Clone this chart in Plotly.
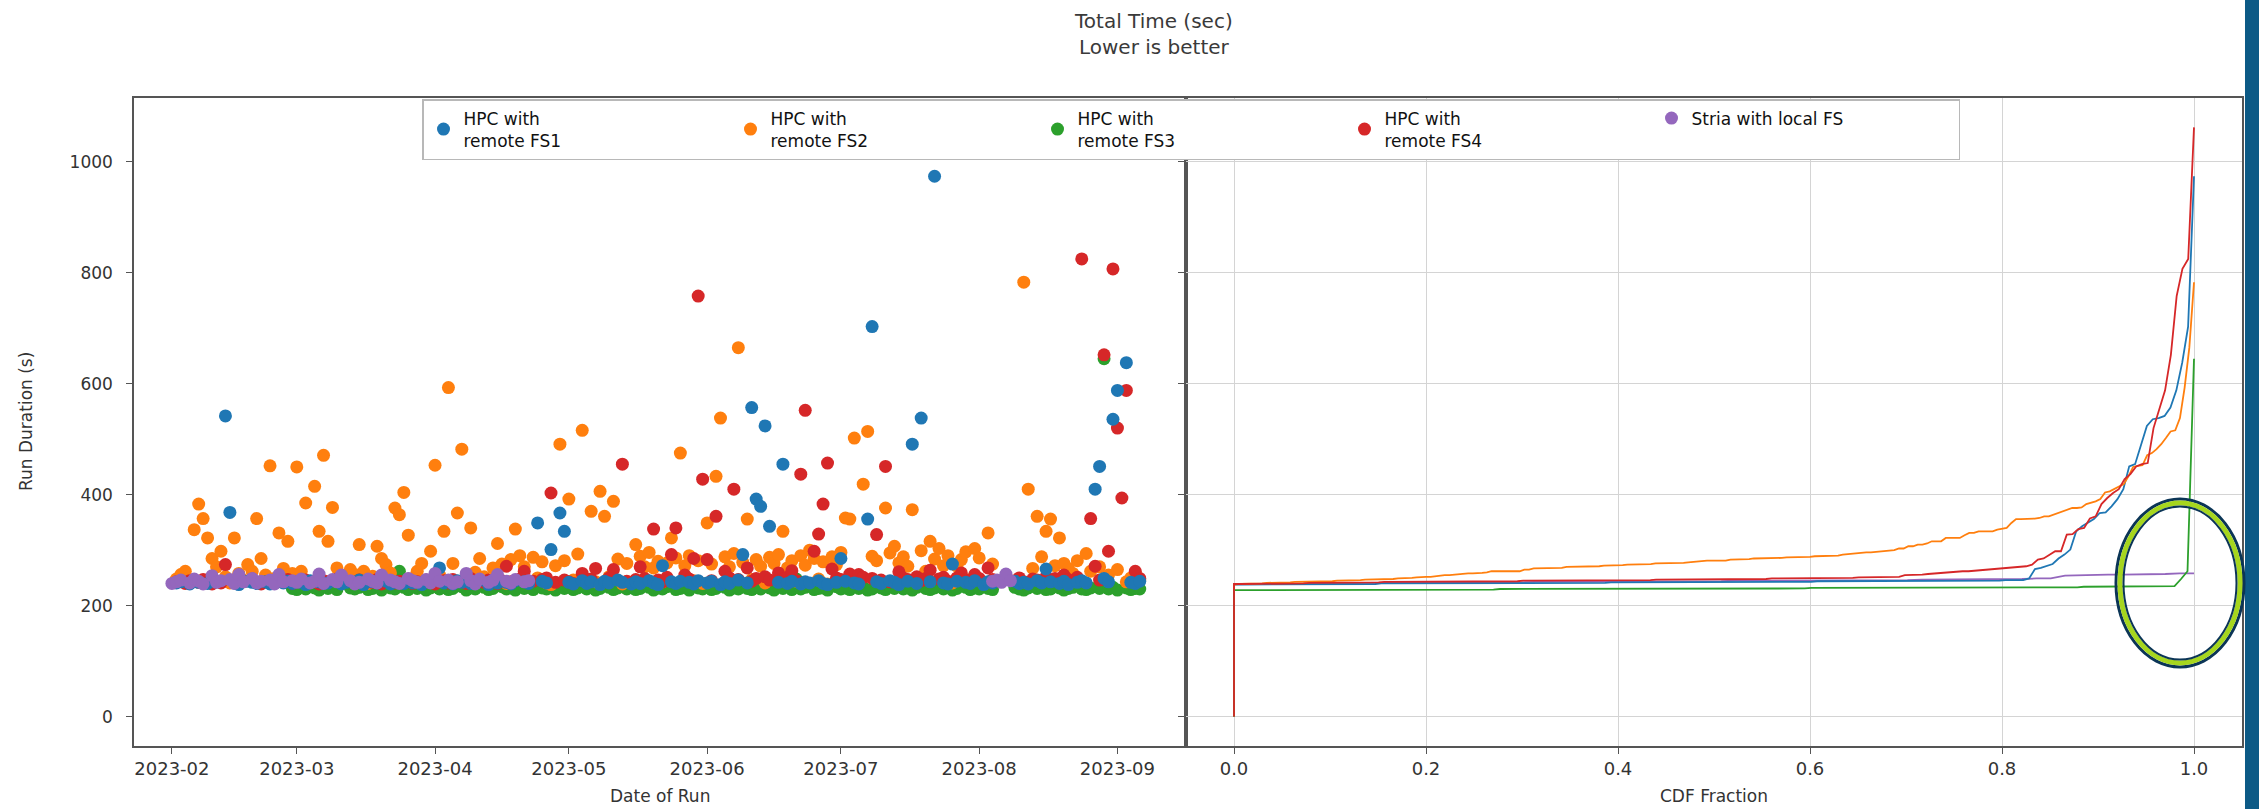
import numpy as np
import pandas as pd
import plotly.graph_objects as go

N = None

# ---------------- data (one value per day, None = no run) ----------------
run_start = "2023-02-01"
run_end = "2023-09-06"

series_names = ["HPC with<br>remote FS1", "HPC with<br>remote FS2", "HPC with<br>remote FS3",
                "HPC with<br>remote FS4", "Stria with local FS"]
series_colors = ["#1f77b4", "#ff7f0e", "#2ca02c", "#d62728", "#9467bd"]

fs1_vals = [
    N, 241, 243, N, 239, 244, 242, N, 240, 245,
    243, N, 542, 368, 241, 238, N, 244, 242, 240,
    N, 243, 239, 245, N, 241, 244, 240, N, 242,
    238, 245, N, 243, 240, 241, N, 244, 239, 242,
    N, 240, 246, 238, N, 243, 241, N, 244, 239,
    242, N, 240, 245, 241, N, 238, 243, 244, N,
    268, 241, N, 239, 245, 242, N, 240, 243, 246,
    N, 238, 244, 241, N, 242, 239, 245, N, 243,
    240, N, 349, 244, 241, 301, N, 367, 334, 242,
    239, N, 245, 240, 243, N, 238, 244, 241, N,
    246, 242, N, 239, 243, 240, N, 245, 241, 238,
    272, N, 243, 240, 244, N, 242, 239, 245, N,
    241, 244, N, 238, 243, 240, N, 246, 292, 241,
    557, 392, 379, 524, 343, N, 242, 455, 240, 244,
    N, 239, 243, 241, N, 245, 240, 238, N, 242,
    285, 244, N, 241, 239, N, 356, 703, 243, 240,
    N, 245, 242, 238, N, 244, 491, 240, 538, N,
    243, 974, N, 241, 239, 275, 244, N, 242, 240,
    245, N, 238, 243, 241, N, N, N, N, 244,
    240, 242, 239, N, 245, 241, 266, 243, N, 240,
    244, 238, N, 242, 245, 241, N, 410, 451, 249,
    243, 536, 588, N, 638, 242, 240, 244,
]

fs2_vals = [
    N, 248, 256, 262, 244, 337, 383, 357, 322, 285,
    270, 298, 252, 241, 322, 258, 246, 274, 262, 357,
    285, 255, 452, 249, 331, 267, 316, 258, 450, 262,
    385, 243, 415, 334, 471, 316, 377, 268, 251, 247,
    265, 256, 310, 262, 240, 253, 307, 285, 274, 259,
    376, 364, 404, 327, 249, 262, 276, 244, 298, 453,
    255, 334, 593, 276, 367, 482, 248, 340, 260, 285,
    252, 245, 268, 312, 275, 240, 283, 338, 290, 270,
    244, 287, 250, 279, 241, 238, 272, 491, 281, 392,
    246, 293, 516, 247, 370, 243, 406, 361, 252, 388,
    284, 239, 276, 242, 310, 289, 270, 296, 268, 280,
    243, 277, 322, 286, 475, 272, 290, 245, 281, 240,
    349, 275, 433, 538, 288, 270, 294, 665, 278, 356,
    247, 283, 271, 241, 287, 276, 292, 334, 268, 281,
    244, 290, 273, 300, 285, 248, 279, 239, 288, 274,
    296, 358, 356, 502, 244, 419, 514, 289, 281, 245,
    376, 295, 307, 277, 288, 271, 373, 242, 299, 262,
    316, 284, 303, 272, 290, 241, 271, 283, 297, 247,
    303, 286, 240, 331, 275, N, N, N, N, N,
    N, 783, 410, 267, 361, 288, 334, 356, 272, 322,
    276, 267, 258, 281, N, 294, 262, N, 270, N,
    255, N, 265, N, 243, 250, 258, 246,
]

fs3_vals = [
    N, N, N, N, N, N, N, N, N, N,
    N, N, N, N, N, N, N, N, N, N,
    N, N, N, N, N, N, N, 231, 229, 233,
    230, N, 232, 228, 234, 231, N, 229, N, N,
    232, 230, 233, N, 229, 231, 234, 228, N, 232,
    230, 262, 233, 229, N, 231, 235, 228, 232, N,
    230, 233, 229, 231, N, 234, 228, 232, 230, N,
    233, 229, 231, N, 234, 230, 232, 228, N, 231,
    233, 229, N, 232, 230, 234, 228, N, 231, 233,
    229, 232, N, 230, 235, 228, 231, N, 233, 229,
    232, N, 230, 234, 229, 231, N, 233, 228, 232,
    230, 234, N, 229, 231, 233, 228, N, 232, 230,
    234, 229, 231, N, 233, 228, 232, 230, N, 231,
    229, 233, 230, N, 232, 228, 234, 231, N, 229,
    248, 230, 233, N, 229, 231, 232, 228, N, 234,
    230, 232, 229, N, 231, 233, 228, 230, N, 232,
    229, 234, 231, N, 230, 232, 228, 233, N, 231,
    229, 232, N, 230, 234, 228, 231, N, 233, 229,
    232, 230, N, 231, 229, N, N, N, N, 233,
    230, 228, 232, N, 231, 234, 229, 230, N, 232,
    228, 231, 233, N, 230, 229, 232, N, 231, 645,
    230, 233, 228, N, 232, 229, 231, 230,
]

fs4_vals = [
    N, 243, N, 240, 245, N, 242, 247, N, 239,
    244, 241, 274, N, 246, 240, 243, N, 248, 242,
    239, N, 245, 241, 244, N, 247, 240, 243, N,
    246, 242, N, 239, 245, 243, N, 248, 241, 244,
    N, 240, 246, 243, N, 242, 247, 239, N, 245,
    241, 244, N, 248, 240, 243, N, 246, 242, 239,
    N, 245, 241, 247, N, 243, 240, 249, N, 244,
    242, 246, N, 240, 245, 271, 243, N, 248, 262,
    241, 244, N, 247, 250, 403, 242, N, 246, 243,
    240, N, 258, 245, 248, 267, N, 243, 250, 265,
    1062, 455, 244, N, 247, 270, 249, N, 338, 246,
    243, 251, 292, 340, N, 255, 248, 285, 758, 428,
    283, 245, 361, N, 262, 250, 410, 247, N, 268,
    244, 249, N, 252, 246, N, 259, 248, 251, 263,
    245, 437, 552, N, 298, 329, 383, 457, 266, 250,
    247, N, 257, 244, 256, 251, N, 249, 328, 246,
    451, 243, N, 261, 250, 247, N, 252, 245, 249,
    264, N, 248, 251, 244, N, 250, 259, 246, N,
    256, 249, N, 268, 247, N, N, N, N, 245,
    250, 243, N, 248, 246, N, 252, 244, 249, N,
    255, 247, N, 251, 825, N, 357, 271, 246, 652,
    298, 807, 520, 394, 588, N, 262, 249,
]

stria_vals = [
    240, 243, 246, N, 241, 248, 244, 239, N, 254,
    242, 245, N, 247, 240, 256, 243, N, 249, 241,
    244, N, 246, 239, 256, 243, N, 245, 242, 248,
    N, 241, 244, 257, 240, N, 247, 243, 255, N,
    245, 239, 242, N, 248, 244, 241, 255, N, 246,
    243, 240, N, 249, 245, 242, N, 247, 241, 258,
    244, N, 246, 240, 243, N, 258, 245, 239, 248,
    N, 242, 246, 256, N, 244, 241, 247, N, 243,
    245, N, N, N, N, N, N, N, N, N,
    N, N, N, N, N, N, N, N, N, N,
    N, N, N, N, N, N, N, N, N, N,
    N, N, N, N, N, N, N, N, N, N,
    N, N, N, N, N, N, N, N, N, N,
    N, N, N, N, N, N, N, N, N, N,
    N, N, N, N, N, N, N, N, N, N,
    N, N, N, N, N, N, N, N, N, N,
    N, N, N, N, N, N, N, N, N, N,
    N, N, N, N, N, N, N, N, N, N,
    N, N, N, N, 244, 246, 242, 257, 245, N,
    N, N, N, N, N, N, N, N, N, N,
    N, N, N, N, N, N, N, N, N, N,
    N, N, N, N, N, N, N, N,
]

all_vals = [fs1_vals, fs2_vals, fs3_vals, fs4_vals, stria_vals]

cdf_ticks = [0.0, 0.2, 0.4, 0.6, 0.8, 1.0]
y_ticks = [0, 200, 400, 600, 800, 1000]

# ---------------- figure ----------------
W, H = 2259, 809
dates = pd.date_range(run_start, run_end, freq="D")

FONT = "DejaVu Sans"
AX = "#555555"

fig = go.Figure()

# left panel: scatter of runs over time (draw order chosen so the baseline reads as in the source)
for idx in [2, 1, 3, 0, 4]:
    vals = all_vals[idx]
    d = dates[:len(vals)]
    xs = [t for t, v in zip(d, vals) if v is not None]
    ys = [v for v in vals if v is not None]
    fig.add_trace(go.Scatter(
        x=xs, y=ys, mode="markers", name=series_names[idx], legendrank=idx + 1,
        marker=dict(color=series_colors[idx], size=13, line=dict(width=0)),
        xaxis="x", yaxis="y", showlegend=True))


def cdf(vals):
    v = np.sort(np.array([x for x in vals if x is not None], dtype=float))
    frac = np.arange(len(v)) / (len(v) - 1)
    return np.concatenate([[0.0], frac]), np.concatenate([[0.0], v])


# right panel: CDF lines (purple underneath, red on top)
for idx in [4, 0, 1, 2, 3]:
    fx, fy = cdf(all_vals[idx])
    fig.add_trace(go.Scatter(
        x=fx, y=fy, mode="lines", line=dict(color=series_colors[idx], width=1.8),
        xaxis="x2", yaxis="y2", showlegend=False, hoverinfo="skip"))


def px_x(p):
    return p / W


def px_y(p):
    return 1 - p / H


plot_l, plot_m, plot_r = 134, 1186, 2242
plot_t, plot_b = 98, 746

fig.update_layout(
    width=W, height=H,
    margin=dict(l=0, r=0, t=0, b=0),
    paper_bgcolor="white", plot_bgcolor="white",
    font=dict(family=FONT, size=16, color="#333333"),
    xaxis=dict(
        domain=[px_x(plot_l), px_x(plot_m)], type="date",
        range=["2023-01-23 12:00", "2023-09-16 09:00"],
        tickformat="%Y-%m", dtick="M1", tick0="2023-02-01",
        ticks="outside", ticklen=6, tickcolor=AX, tickwidth=1.2,
        showline=True, linecolor=AX, linewidth=1.5, mirror=True,
        showgrid=False, zeroline=False, tickfont=dict(size=18, color="#333333"),
        anchor="y",
    ),
    yaxis=dict(
        domain=[px_y(plot_b), px_y(plot_t)], range=[-53, 1115],
        tickvals=y_ticks, ticks="outside", ticklen=6, tickcolor=AX, tickwidth=1.2,
        ticklabelstandoff=10,
        showline=True, linecolor=AX, linewidth=1.5, mirror=True,
        showgrid=False, zeroline=False, tickfont=dict(size=17, color="#333333"),
        anchor="x",
    ),
    xaxis2=dict(
        domain=[px_x(plot_m), px_x(plot_r)], range=[-0.05, 1.05],
        tickvals=cdf_ticks, ticktext=[f"{t:.1f}" for t in cdf_ticks],
        ticks="outside", ticklen=6, tickcolor=AX, tickwidth=1.2,
        showline=True, linecolor=AX, linewidth=1.5, mirror=True,
        showgrid=True, gridcolor="#d4d4d4", gridwidth=1.2, zeroline=False,
        tickfont=dict(size=18, color="#333333"), anchor="y2",
    ),
    yaxis2=dict(
        domain=[px_y(plot_b), px_y(plot_t)], matches="y",
        tickvals=y_ticks, showticklabels=False,
        ticks="outside", ticklen=6, tickcolor=AX, tickwidth=1.2,
        showline=True, linecolor=AX, linewidth=1.5, mirror=True,
        showgrid=True, gridcolor="#d4d4d4", gridwidth=1.2, zeroline=False,
        anchor="x2",
    ),
    legend=dict(
        orientation="h", x=px_x(422), xanchor="left", y=px_y(plot_t + 1), yanchor="top",
        bgcolor="white", bordercolor="#b8b8b8", borderwidth=1.5,
        font=dict(family=FONT, size=17, color="#111111"),
        entrywidth=262, entrywidthmode="pixels", itemwidth=30, valign="middle",
        traceorder="normal",
    ),
    showlegend=True,
)

annotations = [
    dict(text="Total Time (sec)<br>Lower is better", x=px_x(1153), y=px_y(34),
         xref="paper", yref="paper", showarrow=False, xanchor="center", yanchor="middle",
         font=dict(family=FONT, size=20, color="#3a3a3a")),
    dict(text="Run Duration (s)", x=px_x(26), y=px_y((plot_t + plot_b) / 2),
         xref="paper", yref="paper", showarrow=False, textangle=-90,
         xanchor="center", yanchor="middle", font=dict(family=FONT, size=17, color="#333333")),
    dict(text="Date of Run", x=px_x((plot_l + plot_m) / 2), y=px_y(796),
         xref="paper", yref="paper", showarrow=False, xanchor="center", yanchor="middle",
         font=dict(family=FONT, size=17, color="#333333")),
    dict(text="CDF Fraction", x=px_x((plot_m + plot_r) / 2), y=px_y(796),
         xref="paper", yref="paper", showarrow=False, xanchor="center", yanchor="middle",
         font=dict(family=FONT, size=17, color="#333333")),
]
fig.update_layout(annotations=annotations)

# decorations: dark side band and highlight ellipse
shapes = [
    dict(type="rect", xref="paper", yref="paper", x0=px_x(2245), x1=1.0, y0=0, y1=1,
         fillcolor="#0c5a86", line=dict(width=0), layer="above"),
]
cx, cy = 2180, 583
for rx, ry, colr, wd in [(64, 84, "#0b3556", 3), (60, 80, "#a6d61e", 5), (56.5, 76.5, "#0b3556", 2)]:
    shapes.append(dict(type="circle", xref="paper", yref="paper",
                       x0=px_x(cx - rx), x1=px_x(cx + rx), y0=px_y(cy + ry), y1=px_y(cy - ry),
                       line=dict(color=colr, width=wd), fillcolor="rgba(0,0,0,0)", layer="above"))
fig.update_layout(shapes=shapes)

fig.write_html(
    "out.html",
    config={"displayModeBar": False},
    post_script="document.body.style.margin='0px';document.body.style.padding='0px';"
                "document.body.style.overflow='hidden';",
)
